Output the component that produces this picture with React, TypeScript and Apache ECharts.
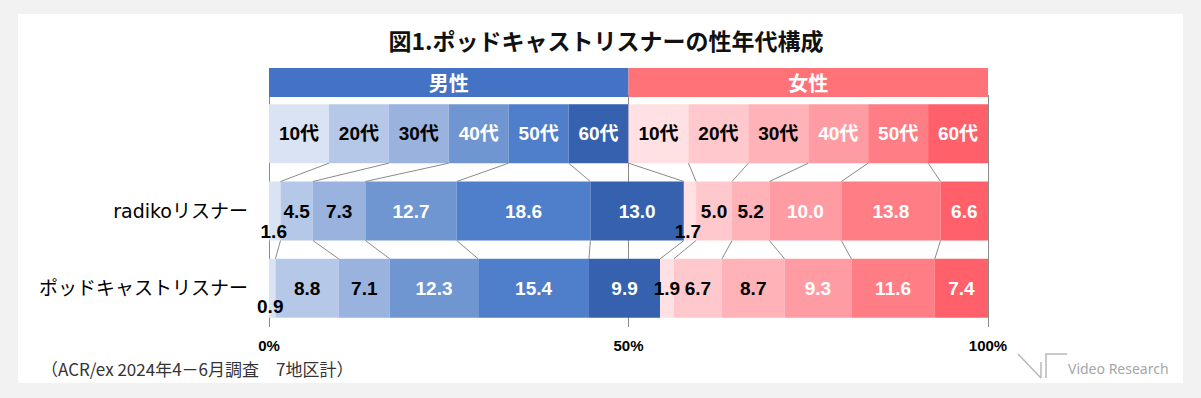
import React, { useEffect, useRef } from "react";
import * as echarts from "echarts";

const TITLE = "図1.ポッドキャストリスナーの性年代構成";
const FOOTNOTE = "（ACR/ex 2024年4－6月調査　7地区計）";
const BRAND = "Video Research";

const genders = ["男性", "女性"];
const ages = ["10代", "20代", "30代", "40代", "50代", "60代"];
const listeners = ["radikoリスナー", "ポッドキャストリスナー"];

const radikoMale = [1.6, 4.5, 7.3, 12.7, 18.6, 13.0];
const radikoFemale = [1.7, 5.0, 5.2, 10.0, 13.8, 6.6];
const podcastMale = [0.9, 8.8, 7.1, 12.3, 15.4, 9.9];
const podcastFemale = [1.9, 6.7, 8.7, 9.3, 11.6, 7.4];

const xTicks = [0, 50, 100];

// labels of narrow segments that sit low in the bar: [gender, age, row, dx, dy]
const lowLabels = [
  [0, 0, 1, -1, 20],
  [1, 0, 1, -2, 20],
  [0, 0, 2, -2, 18],
];

const headerColors = ["#4472c4", "#ff7378"];
const maleColors = ["#dae3f3", "#b6c8e8", "#9ab2de", "#7096d1", "#4f7eca", "#3561ae"];
const femaleColors = ["#ffe1e3", "#ffc8cc", "#ffb2b7", "#ff9ca3", "#ff7d85", "#ff6069"];
const darkLabelAges = [true, true, true, false, false, false];

const LATIN = "'Liberation Sans', 'Noto Sans CJK JP', sans-serif";
const CJK = "'Noto Sans CJK JP', sans-serif";
const WIDE = "'DejaVu Sans', 'Noto Sans CJK JP', sans-serif";
const BAR_H = 59;
const LINE = "#8a8a8a";

export default function App() {
  const ref = useRef<HTMLDivElement>(null);

  useEffect(() => {
    if (!ref.current) return;
    const chart = echarts.init(ref.current, null, { renderer: "svg" });

    const values = [
      [radikoMale, radikoFemale],
      [podcastMale, podcastFemale],
    ];
    const legendCell = 100 / (genders.length * ages.length);

    const barSeries: any[] = [];
    genders.forEach((g, gi) => {
      ages.forEach((a, ai) => {
        const colors = gi === 0 ? maleColors : femaleColors;
        const data: any[] = [legendCell, values[0][gi][ai], values[1][gi][ai]].map((v, ri) => {
          const low = lowLabels.find((l) => l[0] === gi && l[1] === ai && l[2] === ri);
          if (low) return { value: v, label: { offset: [low[3], low[4]] } };
          return v;
        });
        barSeries.push({
          name: `${g}${a}`,
          type: "bar",
          stack: "all",
          xAxisIndex: 1,
          yAxisIndex: 1,
          barWidth: BAR_H,
          data,
          itemStyle: { color: colors[ai] },
          label: {
            show: true,
            position: "inside",
            color: darkLabelAges[ai] ? "#000" : "#fff",
            fontFamily: LATIN,
            fontWeight: "bold",
            fontSize: 19,
            formatter: (p: any) =>
              p.dataIndex === 0 ? a : Number(p.value).toFixed(1),
          },
        });
      });
    });

    // series lines connecting segment boundaries of consecutive rows
    const rowsCum: number[][] = [];
    rowsCum.push(
      Array.from({ length: genders.length * ages.length }, (_, i) => legendCell * (i + 1))
    );
    values.forEach((rv) => {
      const flat = [...rv[0], ...rv[1]];
      let s = 0;
      rowsCum.push(flat.map((v) => (s += v)));
    });
    const connectors: number[][] = [];
    for (let r = 0; r < rowsCum.length - 1; r++) {
      for (let k = 0; k < rowsCum[r].length - 1; k++) {
        connectors.push([rowsCum[r][k], r, rowsCum[r + 1][k], r + 1]);
      }
    }

    const option: any = {
      animation: false,
      backgroundColor: "#f2f2f2",
      grid: [
        { left: 269, width: 719, top: 68, height: 29 },
        { left: 269, width: 719, top: 95, height: 232 },
      ],
      xAxis: [
        { gridIndex: 0, type: "value", min: 0, max: 100, show: false },
        {
          gridIndex: 1,
          type: "value",
          min: xTicks[0],
          max: xTicks[xTicks.length - 1],
          interval: xTicks[1] - xTicks[0],
          axisLine: { show: false },
          axisTick: { show: false },
          splitLine: { show: true, lineStyle: { color: LINE, width: 1 } },
          axisLabel: {
            formatter: "{value}%",
            fontFamily: LATIN,
            fontWeight: "bold",
            fontSize: 15,
            color: "#000",
            margin: 11,
          },
        },
      ],
      yAxis: [
        { gridIndex: 0, type: "category", data: [""], show: false },
        {
          gridIndex: 1,
          type: "category",
          data: ["", ...listeners],
          inverse: true,
          axisLine: { show: false },
          axisTick: { show: false },
          splitLine: { show: false },
          axisLabel: { fontFamily: WIDE, fontSize: 19, color: "#000", margin: 21 },
        },
      ],
      series: [
        ...genders.map((g, gi) => ({
          name: g,
          type: "bar",
          stack: "header",
          xAxisIndex: 0,
          yAxisIndex: 0,
          barWidth: "100%",
          data: [legendCell * ages.length],
          itemStyle: { color: headerColors[gi] },
          label: {
            show: true,
            position: "inside",
            formatter: g,
            color: "#fff",
            fontFamily: CJK,
            fontWeight: "bold",
            fontSize: 20,
          },
        })),
        ...barSeries,
        {
          type: "custom",
          xAxisIndex: 1,
          yAxisIndex: 1,
          silent: true,
          z: 3,
          encode: { x: [0, 2], y: [1, 3] },
          data: connectors,
          renderItem: (params: any, api: any) => {
            const p0 = api.coord([api.value(0), api.value(1)]);
            const p1 = api.coord([api.value(2), api.value(3)]);
            return {
              type: "line",
              shape: { x1: p0[0], y1: p0[1] + BAR_H / 2, x2: p1[0], y2: p1[1] - BAR_H / 2 },
              style: { stroke: LINE, lineWidth: 1 },
            };
          },
        },
      ],
      graphic: [
        {
          type: "rect",
          z: -10,
          silent: true,
          shape: { x: 18, y: 14, width: 1165, height: 369 },
          style: { fill: "#ffffff" },
        },
        {
          type: "text",
          x: 606,
          y: 40,
          style: {
            text: TITLE,
            fill: "#111",
            fontFamily: CJK,
            fontWeight: "bold",
            fontSize: 23,
            textAlign: "center",
            textVerticalAlign: "middle",
          },
        },
        {
          type: "text",
          x: 41,
          y: 368,
          style: {
            text: FOOTNOTE,
            fill: "#333",
            fontFamily: CJK,
            fontSize: 17,
            textAlign: "left",
            textVerticalAlign: "middle",
          },
        },
        {
          type: "line",
          shape: { x1: 1018, y1: 354, x2: 1041, y2: 378 },
          style: { stroke: "#b8b8b8", lineWidth: 1.5 },
        },
        {
          type: "line",
          shape: { x1: 1041, y1: 362, x2: 1041, y2: 378 },
          style: { stroke: "#b8b8b8", lineWidth: 1.5 },
        },
        {
          type: "polyline",
          shape: { points: [[1046, 378], [1046, 354], [1067, 354]] },
          style: { stroke: "#b8b8b8", lineWidth: 1.5, fill: null },
        },
        {
          type: "text",
          x: 1068,
          y: 368,
          style: {
            text: BRAND,
            fill: "#a6a6a6",
            fontFamily: "'Noto Sans', sans-serif",
            fontSize: 14,
            textAlign: "left",
            textVerticalAlign: "middle",
          },
        },
      ],
    };

    chart.setOption(option);
    return () => chart.dispose();
  }, []);

  return (
    <div
      ref={ref}
      style={{ position: "fixed", left: 0, top: 0, width: 1201, height: 398 }}
    />
  );
}
